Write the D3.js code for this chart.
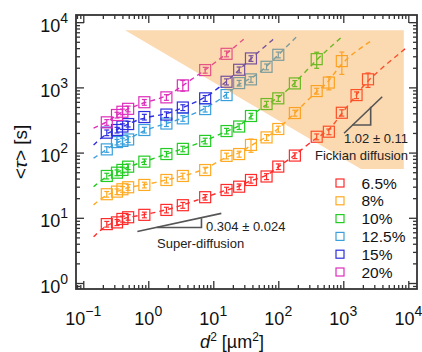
<!DOCTYPE html>
<html>
<head>
<meta charset="utf-8">
<script src="https://cdn.jsdelivr.net/npm/d3@7"></script>
<style>
  body { margin: 0; background: #fff; }
  svg { display: block; font-family: "Liberation Sans", Arial, sans-serif; }
</style>
</head>
<body>
<svg id="chart" width="422" height="352"></svg>
<script>
// Squared displacement bins d² [µm²]
const dSq = [0.23, 0.33, 0.40, 0.49, 0.87, 1.9, 3.4, 7.5, 16, 25, 38, 66, 100, 180, 390, 600, 950, 1600, 2400];

// Mean first-passage time <τ> [s] per concentration, with error bars
const tau65 = [8.0, 8.5, 9.6, 10.2, 11.1, 13.2, 15.6, 20.7, 26.7, 30, 38, 43, 61, 90, 175, 209, 408, 762, 1330];
const err65 = [0.8, 0.9, 1.0, 1.0, 1.1, 1.3, 1.6, 2.0, 2.7, 3, 4, 4.5, 6, 9, 18, 21, 45, 90, 330];
const tau8 = [23, 25.2, 27.4, 29.4, 31.9, 38, 43.8, 54, 89, 95, 131, 171, 230, 404, 878, 1185, 2530];
const err8 = [2.3, 2.5, 2.7, 3.0, 3.2, 3.8, 4.4, 5.5, 9, 10, 30, 18, 24, 42, 90, 270, 950];
const tau10 = [43.8, 49.2, 54.2, 60.8, 72.6, 95, 114, 151, 214, 251, 364, 555, 679, 1150, 2710];
const err10 = [4.4, 5, 5.4, 6, 7, 9, 11, 15, 21, 25, 36, 56, 70, 120, 750];
const tau125 = [112, 145, 151, 159, 222, 279, 335, 465, 762, 1164, 1327, 2070, 3160];
const err125 = [11, 14, 15, 16, 22, 28, 33, 46, 76, 115, 130, 210, 320];
const tau15 = [202, 222, 251, 274, 351, 383, 491, 679, 1219, 1862, 2780];
const err15 = [20, 22, 25, 27, 35, 38, 50, 70, 130, 190, 280];
const tau20 = [291, 377, 423, 469, 592, 703, 1074, 1841, 3270];
const err20 = [29, 38, 42, 47, 60, 70, 200, 190, 330];

// Fitted curve end points [d², <τ>]
const fitStarts = [[0.144, 5.1], [0.144, 15.8], [0.144, 30], [0.144, 82], [0.144, 131], [0.144, 238]];
const fitEnds = [[9060, 3950], [2640, 5120], [917, 5750], [189, 5890], [92.5, 5960], [30.3, 5630]];

const labels = ["6.5%", "8%", "10%", "12.5%", "15%", "20%"];
const colors = ["#ff2a2a", "#ffaa22", "#22cc22", "#3aa0dd", "#2e2ee0", "#dd2ebb"];

// Fickian region (shaded) corners
const shadeD = [0.44, 8530, 8530, 1875];
const shadeT = [7540, 7540, 56, 56];

// Slope guides: [d², <τ>]
const superLine = [[0.679, 6.15], [13.3, 11.7]];
const superTri = [[1.35, 7.08], [6.58, 7.08], [6.58, 9.86]];
const fickLine = [[1028, 198], [3970, 718]];
const fickTri = [[1377, 265], [2640, 265], [2640, 505]];

const decades = [-1, 0, 1, 2, 3, 4];
const yDecades = [0, 1, 2, 3, 4];

const pLeft = 76, pRight = 417, pTop = 15, pBottom = 289;
const x = d3.scaleLog().domain([Math.pow(10, -1.112), Math.pow(10, 4.134)]).range([pLeft, pRight]);
const y = d3.scaleLog().domain([Math.pow(10, -0.092), Math.pow(10, 4.110)]).range([pBottom, pTop]);

const svg = d3.select("#chart");

const series = labels.map((label, i) => ({
  label, color: colors[i],
  tau: [tau65, tau8, tau10, tau125, tau15, tau20][i],
  err: [err65, err8, err10, err125, err15, err20][i],
  fitStart: fitStarts[i], fitEnd: fitEnds[i]
}));

const gData = svg.append("g");

// dashed fit curves
const fitLine = d3.line().x(d => x(d[0])).y(d => y(d[1])).curve(d3.curveBasis);
series.forEach(s => {
  const pts = [s.fitStart].concat(s.tau.map((t, j) => [dSq[j], t])).concat([s.fitEnd]);
  gData.append("path")
    .attr("d", fitLine(pts))
    .attr("fill", "none")
    .attr("stroke", s.color)
    .attr("stroke-width", 1.4)
    .attr("stroke-dasharray", "5,4");
});

// markers with error bars
series.forEach(s => {
  const g = gData.append("g").attr("stroke", s.color).attr("fill", "none").attr("stroke-width", 1.2);
  s.tau.forEach((t, j) => {
    const cx = x(dSq[j]), cy = y(t);
    const y1 = y(t + s.err[j]), y0 = y(Math.max(t - s.err[j], 1e-3));
    g.append("line").attr("x1", cx).attr("x2", cx).attr("y1", y0).attr("y2", y1);
    g.append("line").attr("x1", cx - 2.5).attr("x2", cx + 2.5).attr("y1", y0).attr("y2", y0);
    g.append("line").attr("x1", cx - 2.5).attr("x2", cx + 2.5).attr("y1", y1).attr("y2", y1);
    g.append("rect").attr("x", cx - 5.5).attr("y", cy - 5.5).attr("width", 11).attr("height", 11);
  });
});

// translucent Fickian region drawn over the data
svg.append("polygon")
  .attr("points", shadeD.map((d, i) => [x(d), y(shadeT[i])].join(",")).join(" "))
  .attr("fill", "rgb(245,150,40)")
  .attr("fill-opacity", 0.36);

// slope guides
const guide = d3.line().x(d => x(d[0])).y(d => y(d[1]));
[superLine, fickLine, superTri, fickTri].forEach(l => {
  svg.append("path").attr("d", guide(l)).attr("stroke", "#555").attr("stroke-width", 1.6).attr("fill", "none");
});

const note = svg.append("g").attr("fill", "#222").attr("font-size", 13);
note.append("text").attr("x", 206).attr("y", 230.5).text("0.304 ± 0.024");
note.append("text").attr("x", 157).attr("y", 248).text("Super-diffusion");
note.append("text").attr("x", 408).attr("y", 143).attr("text-anchor", "end").text("1.02 ± 0.11");
note.append("text").attr("x", 408).attr("y", 159.5).attr("text-anchor", "end").text("Fickian diffusion");

// legend
const leg = svg.append("g");
series.forEach((s, i) => {
  const ly = 183 + i * 17.8;
  leg.append("rect").attr("x", 336).attr("y", ly - 4).attr("width", 8).attr("height", 8)
    .attr("fill", "none").attr("stroke", s.color).attr("stroke-width", 1.2);
  leg.append("text").attr("x", 361.5).attr("y", ly + 5.5).attr("font-size", 15.5).attr("fill", "#111").text(s.label);
});

// axes: frame plus inward ticks on all four sides
const majorX = decades.map(k => Math.pow(10, k));
const minorX = [];
decades.concat([-2]).forEach(k => { for (let m = 2; m <= 9; m++) { const v = m * Math.pow(10, k); if (v > x.domain()[0] && v < x.domain()[1]) minorX.push(v); } });
const majorY = yDecades.map(k => Math.pow(10, k));
const minorY = [];
yDecades.concat([-1]).forEach(k => { for (let m = 2; m <= 9; m++) { const v = m * Math.pow(10, k); if (v > y.domain()[0] && v < y.domain()[1]) minorY.push(v); } });

const axisColor = "#333";
function tickAxis(axisFn, scale, vals, size, transform) {
  const g = svg.append("g").attr("transform", transform)
    .call(axisFn(scale).tickValues(vals).tickSize(size).tickFormat(""));
  g.select(".domain").remove();
  g.selectAll("line").attr("stroke", axisColor).attr("stroke-width", 1.3);
}
tickAxis(d3.axisBottom, x, majorX, -8, `translate(0,${pBottom})`);
tickAxis(d3.axisBottom, x, minorX, -4, `translate(0,${pBottom})`);
tickAxis(d3.axisTop, x, majorX, -8, `translate(0,${pTop})`);
tickAxis(d3.axisTop, x, minorX, -4, `translate(0,${pTop})`);
tickAxis(d3.axisLeft, y, majorY, -8, `translate(${pLeft},0)`);
tickAxis(d3.axisLeft, y, minorY, -4, `translate(${pLeft},0)`);
tickAxis(d3.axisRight, y, majorY, -8, `translate(${pRight},0)`);
tickAxis(d3.axisRight, y, minorY, -4, `translate(${pRight},0)`);

svg.append("rect").attr("x", pLeft).attr("y", pTop).attr("width", pRight - pLeft).attr("height", pBottom - pTop)
  .attr("fill", "none").attr("stroke", axisColor).attr("stroke-width", 1.8);

// tick labels as 10^n
function powLabel(sel, k) {
  sel.append("tspan").text("10");
  sel.append("tspan").attr("dy", -9).attr("font-size", 14).text(k < 0 ? "\u2212" + (-k) : String(k));
}
decades.forEach(k => {
  const t = svg.append("text").attr("x", x(Math.pow(10, k))).attr("y", 325)
    .attr("text-anchor", "middle").attr("font-size", 18).attr("fill", "#111");
  powLabel(t, k);
});
yDecades.forEach(k => {
  const t = svg.append("text").attr("x", 68).attr("y", y(Math.pow(10, k)) + 9.5)
    .attr("text-anchor", "end").attr("font-size", 18).attr("fill", "#111");
  powLabel(t, k);
});

// axis titles
const xt = svg.append("text").attr("x", 232).attr("y", 348).attr("text-anchor", "middle")
  .attr("font-size", 18).attr("fill", "#111");
xt.append("tspan").attr("font-style", "italic").text("d");
xt.append("tspan").attr("dy", -7).attr("font-size", 12).text("2");
xt.append("tspan").attr("dy", 7).text(" [µm");
xt.append("tspan").attr("dy", -7).attr("font-size", 12).text("2");
xt.append("tspan").attr("dy", 7).text("]");

const yt = svg.append("text").attr("transform", "translate(27,152) rotate(-90)")
  .attr("text-anchor", "middle").attr("font-size", 19).attr("fill", "#111");
yt.append("tspan").text("<");
yt.append("tspan").attr("font-style", "italic").text("τ");
yt.append("tspan").text("> [s]");
</script>
</body>
</html>
